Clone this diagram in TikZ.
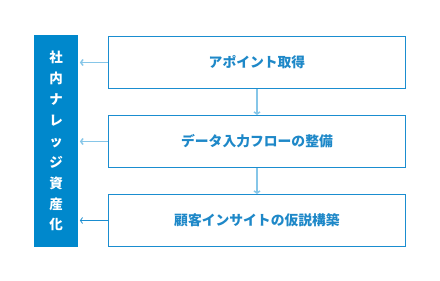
\documentclass[tikz,border=0pt]{standalone}
\usepackage{fontspec}
\newfontfamily\jpfont{Noto Sans CJK JP}
\usetikzlibrary{arrows.meta,positioning,calc}
\definecolor{barBlue}  {HTML}{0088CC}
\definecolor{boxLine}  {HTML}{1A8DD0}
\definecolor{textBlue} {HTML}{1E88C8}
\definecolor{linkC}    {HTML}{86C6E8}
\tikzset{
  >={Straight Barb[length=2.2pt,width=6pt]},
  sidebar/.style={fill=barBlue,draw=none,inner sep=0pt,align=center,
    text=white,font=\jpfont\bfseries\fontsize{13.5}{20.9}\selectfont},
  stepbox/.style={draw=boxLine,line width=1pt,fill=white,inner sep=0pt,
    minimum width=297pt,minimum height=52pt,text=textBlue,
    font=\jpfont\bfseries\fontsize{13.8}{16}\selectfont},
  linkSoft/.style={->,line width=1.5pt,draw=linkC},
  linkSharp/.style={->,line width=0.8pt,draw=boxLine},
}
\begin{document}
\begin{tikzpicture}[x=1pt,y=-1pt]
\useasboundingbox (0,0) rectangle (440,281);
\node[sidebar,minimum width=44pt,minimum height=212pt,anchor=north west] (asset) at (34,35) {%
  社\\内\\ナ\\レ\\ッ\\ジ\\資\\産\\化};
\node[stepbox,anchor=north west] (appoint)  at (108,36)  {アポイント取得};
\node[stepbox,anchor=north west] (dataflow) at (108,115) {データ入力フローの整備};
\node[stepbox,anchor=north west] (insight)  at (108,194) {顧客インサイトの仮説構築};
% flow down
\draw[linkSoft] (appoint.south) -- (dataflow.north);
\draw[linkSoft] (dataflow.south) -- (insight.north);
% back to the sidebar
\draw[linkSoft] (appoint.west) -- ($(asset.east |- appoint.west)+(1.5,0)$);
\draw[linkSoft] (dataflow.west) -- ($(asset.east |- dataflow.west)+(1.5,0)$);
\draw[linkSharp] (insight.west) -- ($(asset.east |- insight.west)+(1.5,0)$);
\end{tikzpicture}
\end{document}
